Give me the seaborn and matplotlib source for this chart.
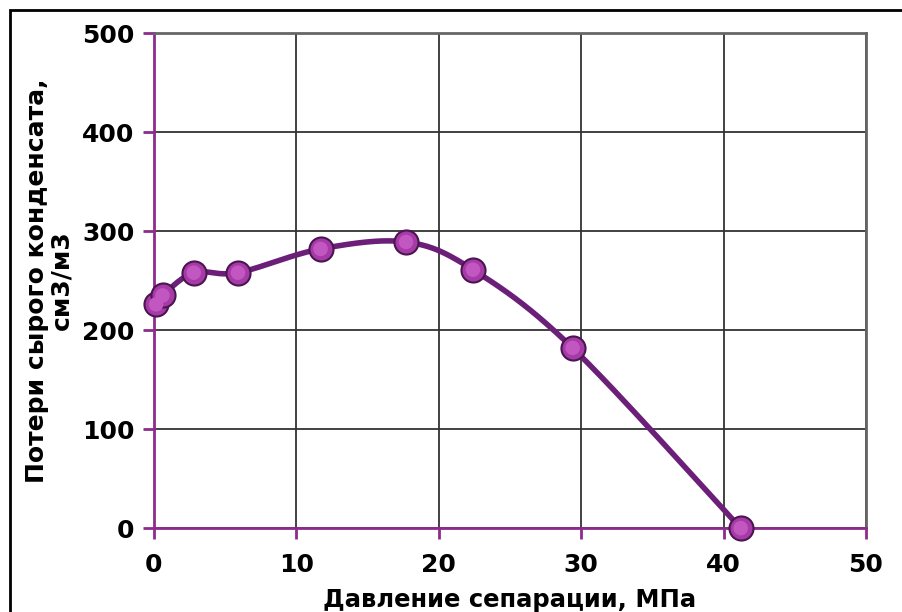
import matplotlib
matplotlib.use("Agg")
import matplotlib.pyplot as plt
import matplotlib.patches as mpatches
import numpy as np
import pandas as pd
import seaborn as sns

# Data
pressure = [0.15, 0.6, 2.8, 5.9, 11.7, 17.7, 22.4, 29.4, 41.2]
losses = [226, 235, 258, 258, 282, 289, 261, 182, 0]

x_ticks = [0, 10, 20, 30, 40, 50]
y_ticks = [0, 100, 200, 300, 400, 500]

LINE = "#6b1f78"
MARK = "#a63aa6"
SPINE = "#8e2a8e"


def smooth_curve(x, y, steps=40):
    """Excel-like smoothed line (Catmull-Rom through the data points)."""
    pts = np.column_stack([x, y]).astype(float)
    p = np.vstack([pts[0], pts, pts[-1]])
    out = []
    for i in range(1, len(p) - 2):
        p0, p1, p2, p3 = p[i - 1], p[i], p[i + 1], p[i + 2]
        c1 = p1 + (p2 - p0) / 6
        c2 = p2 - (p3 - p1) / 6
        t = np.linspace(0, 1, steps)[:, None]
        seg = ((1 - t) ** 3) * p1 + 3 * ((1 - t) ** 2) * t * c1 \
            + 3 * (1 - t) * t ** 2 * c2 + t ** 3 * p2
        out.append(seg)
    seg = np.vstack(out)
    return seg[:, 0], seg[:, 1]


sns.set_style("white")
plt.rcParams["font.family"] = ["DejaVu Sans"]
plt.rcParams["text.color"] = "black"
plt.rcParams["axes.labelcolor"] = "black"
plt.rcParams["xtick.color"] = "black"
plt.rcParams["ytick.color"] = "black"

fig = plt.figure(figsize=(9.03, 6.12), dpi=100)
ax = fig.add_axes([0.1705, 0.137, 0.7885, 0.809])

sx, sy = smooth_curve(pressure, losses)
curve = pd.DataFrame({"x": sx, "y": sy})
sns.lineplot(data=curve, x="x", y="y", ax=ax, color=LINE, lw=4,
             sort=False, estimator=None, zorder=3)

df = pd.DataFrame({"p": pressure, "loss": losses})
sns.scatterplot(data=df, x="p", y="loss", ax=ax, s=300, color=MARK,
                edgecolor="#4a1550", linewidth=1.5, zorder=4, clip_on=False)
sns.scatterplot(data=df, x="p", y="loss", ax=ax, s=110, color="#c257c2",
                edgecolor="none", zorder=5, clip_on=False)

ax.set_xlim(0, 50)
ax.set_ylim(0, 500)
ax.set_xticks(x_ticks)
ax.set_yticks(y_ticks)
ax.grid(True, color="#333333", lw=1.3)
ax.set_axisbelow(True)

for side in ["top", "right"]:
    ax.spines[side].set_color("#666666")
    ax.spines[side].set_linewidth(2)
for side in ["left", "bottom"]:
    ax.spines[side].set_color(SPINE)
    ax.spines[side].set_linewidth(2)
    ax.spines[side].set_zorder(2.5)

ax.tick_params(axis="both", which="major", bottom=True, left=True,
               direction="out", length=8, width=2, color=SPINE,
               labelsize=18, labelcolor="black")
ax.tick_params(axis="x", pad=10)
ax.tick_params(axis="y", pad=6)
for lbl in ax.get_xticklabels() + ax.get_yticklabels():
    lbl.set_fontweight("heavy")

ax.set_xlabel("Давление сепарации, МПа", fontsize=17.5, fontweight="heavy",
              labelpad=8)
ax.set_ylabel("Потери сырого конденсата,\nсм3/м3", fontsize=18,
              fontweight="heavy", labelpad=6, linespacing=1.05)

# outer chart frame
fig.patches.append(mpatches.Rectangle((10 / 903, -0.01), 1.0, 1 - 10 / 612 + 0.01,
                                      transform=fig.transFigure, fill=False,
                                      edgecolor="black", lw=2))

fig.savefig("out.png", dpi=100)
